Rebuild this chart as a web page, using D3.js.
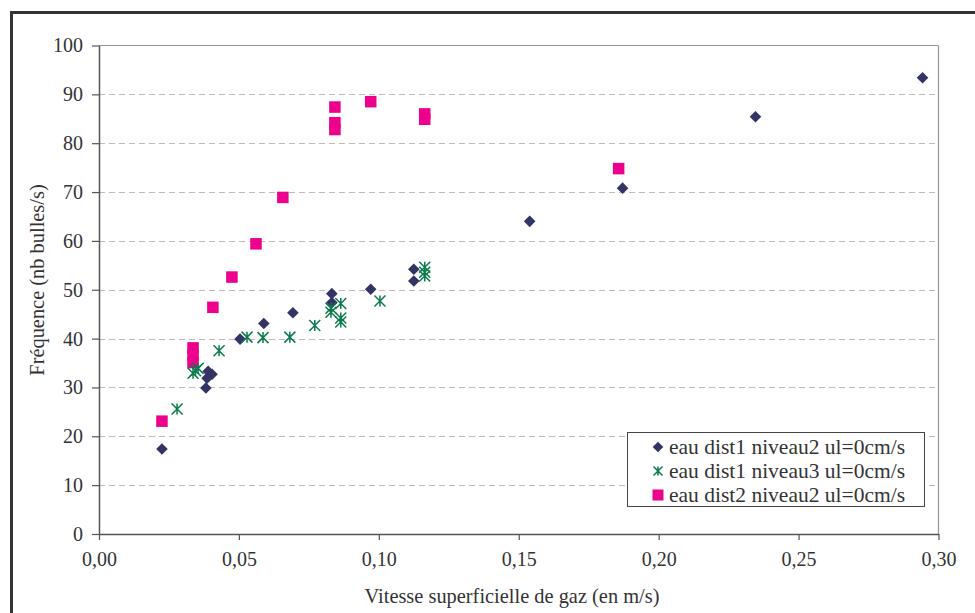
<!DOCTYPE html>
<html>
<head>
<meta charset="utf-8">
<script src="https://cdn.jsdelivr.net/npm/d3@7/dist/d3.min.js"></script>
<style>
  html, body { margin: 0; padding: 0; background: #fff; }
  svg { display: block; font-family: "Liberation Serif", "Times New Roman", serif; }
</style>
</head>
<body>
<svg id="chart" width="975" height="613"></svg>
<script>
// ---- Data ----
const seriesNames = [
  "eau dist1 niveau2 ul=0cm/s",
  "eau dist1 niveau3 ul=0cm/s",
  "eau dist2 niveau2 ul=0cm/s"
];
// series 1: diamonds
const s1x = [0.0225, 0.0382, 0.0386, 0.0390, 0.0404, 0.0504, 0.0589, 0.0693, 0.0832, 0.0832, 0.0971, 0.1125, 0.1125, 0.1539, 0.1871, 0.2346, 0.2943];
const s1y = [17.4, 29.9, 31.9, 33.3, 32.7, 39.9, 43.1, 45.3, 49.2, 47.4, 50.1, 54.2, 51.8, 64.0, 70.8, 85.4, 93.4];
// series 2: asterisks
const s2x = [0.0279, 0.0336, 0.0345, 0.0354, 0.0429, 0.0529, 0.0586, 0.0682, 0.0771, 0.0829, 0.0829, 0.0864, 0.0864, 0.0864, 0.1004, 0.1164, 0.1164, 0.1164];
const s2y = [25.6, 32.9, 33.4, 33.9, 37.5, 40.3, 40.2, 40.3, 42.7, 46.2, 45.4, 47.2, 44.2, 43.4, 47.7, 54.6, 53.6, 52.8];
// series 3: squares
const s3x = [0.0225, 0.0336, 0.0336, 0.0336, 0.0407, 0.0475, 0.0561, 0.0657, 0.0843, 0.0843, 0.0843, 0.0971, 0.1164, 0.1164, 0.1857];
const s3y = [23.1, 38.1, 36.6, 35.1, 46.4, 52.6, 59.4, 68.9, 87.4, 84.2, 82.8, 88.5, 86.0, 84.9, 74.8];

const xTicks = [0, 0.05, 0.10, 0.15, 0.20, 0.25, 0.30];
const yTicks = [0, 10, 20, 30, 40, 50, 60, 70, 80, 90, 100];
const xTitle = "Vitesse superficielle de gaz (en m/s)";
const yTitle = "Fréquence (nb bulles/s)";

const colors = ["#333366", "#0B7A4C", "#EC008C"];

(function () {
// ---- Layout ----
const svg = d3.select("#chart");
const mLeft = 99, mRight = 938.5, mTop = 45.5, mBottom = 534;

const x = d3.scaleLinear().domain([0, 0.30]).range([mLeft, mRight]);
const y = d3.scaleLinear().domain([0, 100]).range([mBottom, mTop]);

// outer frame
svg.append("rect").attr("x", 11.5).attr("y", 12.5).attr("width", 1000).attr("height", 700)
  .attr("fill", "none").attr("stroke", "#333").attr("stroke-width", 3);

// gridlines
svg.append("g").selectAll("line").data(yTicks.filter(d => d > 0 && d < 100)).join("line")
  .attr("x1", mLeft).attr("x2", mRight)
  .attr("y1", d => Math.round(y(d)) + 0.5).attr("y2", d => Math.round(y(d)) + 0.5)
  .attr("stroke", "#c4b9b9").attr("stroke-width", 1).attr("stroke-dasharray", "6,4");

// plot border top/right
svg.append("line").attr("x1", mLeft).attr("x2", mRight).attr("y1", mTop).attr("y2", mTop)
  .attr("stroke", "#9a9090").attr("stroke-width", 1.2);
svg.append("line").attr("x1", mRight).attr("x2", mRight).attr("y1", mTop).attr("y2", mBottom)
  .attr("stroke", "#9a9090").attr("stroke-width", 1.2);

// axes
const fmtX = d => d3.format(".2f")(d).replace(".", ",");
const xAxis = d3.axisBottom(x).tickValues(xTicks).tickFormat(fmtX).tickSize(6).tickSizeOuter(0).tickPadding(12);
const yAxis = d3.axisLeft(y).tickValues(yTicks).tickFormat(d3.format("d")).tickSize(7).tickSizeOuter(0).tickPadding(9);

const gx = svg.append("g").attr("transform", `translate(0,${mBottom})`).call(xAxis);
const gy = svg.append("g").attr("transform", `translate(${mLeft},0)`).call(yAxis);
[gx, gy].forEach(g => {
  g.attr("font-family", null);
  g.select(".domain").attr("stroke", "#555").attr("stroke-width", 1.5);
  g.selectAll(".tick line").attr("stroke", "#555").attr("stroke-width", 1.2);
  g.selectAll(".tick text").attr("fill", "#333").style("font-family", "'Liberation Serif', serif").style("font-size", "20px");
});

// titles
svg.append("text").attr("x", 512).attr("y", 603).attr("text-anchor", "middle")
  .attr("fill", "#333").style("font-size", "20.4px").text(xTitle);
svg.append("text").attr("transform", "translate(44,280) rotate(-90)").attr("text-anchor", "middle")
  .attr("fill", "#333").style("font-size", "20.4px").text(yTitle);

// marker drawing
function diamond(g, cx, cy, s, c) {
  g.append("path").attr("d", d3.symbol(d3.symbolSquare, s * s)())
    .attr("transform", `translate(${cx},${cy}) rotate(45)`).attr("fill", c);
}
function square(g, cx, cy, s, c) {
  g.append("rect").attr("x", cx - s / 2).attr("y", cy - s / 2).attr("width", s).attr("height", s).attr("fill", c);
}
function star(g, cx, cy, s, c) {
  const h = s / 2;
  g.append("path")
    .attr("d", `M${cx - h},${cy - h}L${cx + h},${cy + h}M${cx - h},${cy + h}L${cx + h},${cy - h}M${cx},${cy - h}L${cx},${cy + h}`)
    .attr("stroke", c).attr("stroke-width", 1.5).attr("fill", "none");
}

const plot = svg.append("g");
const d1 = s1x.map((v, i) => ({ x: v, y: s1y[i] }));
const d2 = s2x.map((v, i) => ({ x: v, y: s2y[i] }));
const d3s = s3x.map((v, i) => ({ x: v, y: s3y[i] }));

d3s.forEach(d => square(plot, x(d.x), y(d.y), 11.5, colors[2]));
d1.forEach(d => diamond(plot, x(d.x), y(d.y), 8.2, colors[0]));
d2.forEach(d => star(plot, x(d.x), y(d.y), 11, colors[1]));

// legend
const lg = svg.append("g");
lg.append("rect").attr("x", 627.5).attr("y", 432.5).attr("width", 297).attr("height", 74)
  .attr("fill", "#fff").attr("stroke", "#444").attr("stroke-width", 1);
const drawers = [diamond, star, square];
const sizes = [7.5, 9, 11];
seriesNames.forEach((n, i) => {
  const cy = 447 + i * 24;
  drawers[i](lg, 658, cy, sizes[i], colors[i]);
  lg.append("text").attr("x", 669).attr("y", cy + 7).attr("fill", "#333")
    .style("font-size", "21.5px").text(n);
});
})();
</script>
</body>
</html>
